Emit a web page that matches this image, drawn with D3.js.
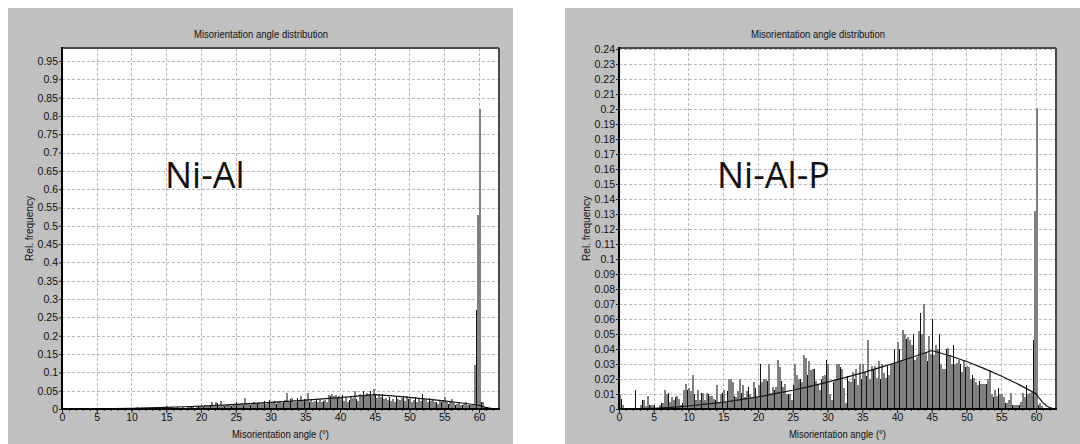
<!DOCTYPE html>
<html><head><meta charset="utf-8">
<script src="https://cdn.jsdelivr.net/npm/d3@7"></script>
<style>
body{margin:0;background:#fff;}
svg{display:block;font-family:"Liberation Sans",Arial,sans-serif;}
</style>
</head><body>
<svg id="chart" width="1080" height="444"></svg>
<script>
// ---------- data ----------
const binWidth = 0.25; // degrees per bar, bars start at 0°
const xTicks = [0,5,10,15,20,25,30,35,40,45,50,55,60];
const leftYTicks = [0,0.05,0.1,0.15,0.2,0.25,0.3,0.35,0.4,0.45,0.5,0.55,0.6,0.65,0.7,0.75,0.8,0.85,0.9,0.95];
const rightYTicks = [0,0.01,0.02,0.03,0.04,0.05,0.06,0.07,0.08,0.09,0.1,0.11,0.12,0.13,0.14,0.15,0.16,0.17,0.18,0.19,0.2,0.21,0.22,0.23,0.24];

// Ni-Al relative frequency per 0.25° bin (one row = 5°)
const niAlBars = [
 0,0,0,0,0,0,0,0,0,0,0,0,0,0,0,0,0,0,0,0,
 0,0,0,0,0,0,0,0,0,0.004,0.002,0,0,0,0,0,0,0,0,0.004,
 0.002,0,0,0.005,0.002,0.002,0,0,0,0.001,0.004,0.004,0,0.002,0.005,0.003,0.003,0.004,0.003,0.006,
 0.007,0.003,0.004,0.005,0.004,0.003,0.006,0.004,0.003,0.005,0.003,0.004,0.006,0.007,0.005,0.008,0.004,0.006,0.007,0.009,
 0.008,0.006,0.010,0.007,0.009,0.012,0.020,0.011,0.018,0.016,0.012,0.023,0.010,0.008,0.012,0.011,0.014,0.009,0.012,0.015,
 0.018,0.014,0.013,0.016,0.012,0.030,0.013,0.015,0.012,0.014,0.020,0.016,0.013,0.018,0.014,0.017,0.022,0.015,0.019,0.025,
 0.016,0.018,0.021,0.015,0.020,0.023,0.017,0.019,0.024,0.045,0.022,0.028,0.030,0.020,0.018,0.030,0.025,0.035,0.022,0.028,
 0.024,0.045,0.019,0.025,0.018,0.021,0.028,0.020,0.026,0.018,0.022,0.025,0.020,0.038,0.036,0.040,0.035,0.038,0.030,0.036,
 0.032,0.038,0.022,0.030,0.018,0.025,0.034,0.030,0.050,0.028,0.022,0.040,0.036,0.050,0.038,0.045,0.042,0.048,0.035,0.055,
 0.038,0.030,0.042,0.034,0.040,0.028,0.030,0.025,0.033,0.022,0.028,0.020,0.035,0.026,0.024,0.030,0.036,0.022,0.035,0.028,
 0.030,0.018,0.025,0.032,0.020,0.026,0.022,0.040,0.028,0.024,0.018,0.030,0.022,0.026,0.018,0.020,0.015,0.022,0.019,0.025,
 0.034,0.018,0.015,0.020,0.028,0.016,0.012,0.014,0.020,0.010,0.012,0.015,0.018,0.012,0.010,0.012,0.014,0.120,0.270,0.530,
 0.820,0.020,0.020,0.005,0.002,0,0,0,0,0,0,0
];

// Ni-Al-P relative frequency per 0.25° bin (one row = 5°)
const niAlPBars = [
 0.010,0.007,0.003,0,0,0,0,0,0,0.013,0,0,0.003,0.006,0.006,0.002,0.009,0.003,0.003,0.003,
 0.003,0,0,0.003,0.004,0.004,0.013,0.010,0.011,0.005,0.008,0.006,0.008,0.009,0.007,0.003,0.004,0.013,0.017,0.013,
 0.014,0.012,0.023,0.010,0.006,0.013,0.006,0.011,0.011,0.006,0.011,0.010,0.009,0.009,0.007,0.006,0.016,0.005,0.010,0.011,
 0.013,0.005,0.012,0.020,0.020,0.018,0.009,0.008,0.012,0.020,0.011,0.016,0.008,0.012,0.015,0.010,0.008,0.018,0.014,0.009,
 0.016,0.030,0.018,0.020,0.020,0.019,0.030,0.011,0.015,0.013,0.015,0.033,0.028,0.019,0.015,0.017,0.010,0.010,0.010,0.006,
 0.016,0.030,0.023,0.020,0.020,0.018,0.036,0.034,0.023,0.032,0.026,0.027,0.027,0.019,0.017,0.013,0.020,0.022,0.023,0.033,
 0.030,0.010,0.006,0.018,0.020,0.030,0.030,0.028,0.027,0.014,0.004,0.022,0.019,0.018,0.025,0.020,0.027,0.016,0.030,0.020,
 0.030,0.025,0.022,0.046,0.020,0.029,0.026,0.029,0.021,0.032,0.020,0.030,0.024,0.021,0.029,0.023,0.030,0.031,0.040,0.031,
 0.045,0.040,0.033,0.053,0.050,0.047,0.048,0.046,0.043,0.050,0.033,0.035,0.052,0.064,0.050,0.070,0.038,0.032,0.049,0.037,
 0.060,0.036,0.043,0.040,0.050,0.030,0.027,0.027,0.040,0.041,0.036,0.030,0.043,0.030,0.031,0.033,0.030,0.025,0.033,0.028,
 0.029,0.028,0.020,0.023,0.021,0.018,0.016,0.019,0.017,0.017,0.017,0.017,0.020,0.026,0.010,0.008,0.013,0.009,0.014,0.010,
 0.010,0.008,0.004,0.004,0.006,0.011,0.003,0.003,0.003,0.003,0.003,0.005,0.011,0.008,0.016,0.010,0.011,0.012,0.046,0.132,
 0.201,0.003,0.004,0.002,0.001,0,0.001,0,0.001,0,0,0
];

// random (Mackenzie) distribution curve
const curveAngles = [0,2.5,5,7.5,10,12.5,15,17.5,20,22.5,25,27.5,30,32.5,35,37.5,40,42.5,45,47.5,50,52.5,55,57.5,60,60.5,61,61.5,62,62.5,62.8];
const curveValues = [0,0.0001,0.0005,0.0011,0.0020,0.0032,0.0045,0.0062,0.0080,0.0102,0.0125,0.0151,0.0179,0.0209,0.0241,0.0276,0.0312,0.0350,0.0390,0.0357,0.0317,0.0271,0.0220,0.0164,0.0102,0.0070,0.0042,0.0022,0.0009,0.0002,0];

const panelLabels = ["Ni-Al", "Ni-Al-P"];
const chartTitle = "Misorientation angle distribution";
const xTitle = "Misorientation angle (°)";
const yTitle = "Rel. frequency";

// ---------- drawing ----------
const svg = d3.select("#chart");
const panels = [
  {label: panelLabels[0], bars: niAlBars, yTicks: leftYTicks, yMax: 0.9855, dx: 0, bgW: 505, labelX: 165},
  {label: panelLabels[1], bars: niAlPBars, yTicks: rightYTicks, yMax: 0.2407, dx: 557, bgW: 530, labelX: 160}
];
const P = {left: 62, right: 499, top: 48, bottom: 409};
const fmt = d => String(+d.toFixed(2));

panels.forEach(p => {
  const g = svg.append("g").attr("transform", `translate(${p.dx},0)`);
  g.append("rect").attr("x", 8).attr("y", 8).attr("width", p.bgW).attr("height", 440).attr("fill", "#c0c0c0");
  g.append("rect").attr("x", P.left).attr("y", P.top).attr("width", P.right - P.left).attr("height", P.bottom - P.top).attr("fill", "#fff");

  const x = d3.scaleLinear().domain([0, 62.88]).range([P.left, P.right]);
  const y = d3.scaleLinear().domain([0, p.yMax]).range([P.bottom, P.top]);

  // grid
  const grid = g.append("g").attr("stroke", "#b8b8b8").attr("stroke-width", 1).attr("stroke-dasharray", "3,2").attr("shape-rendering", "crispEdges");
  grid.selectAll("line.h").data(p.yTicks.filter(d => d > 0)).join("line")
    .attr("x1", P.left).attr("x2", P.right).attr("y1", d => Math.round(y(d)) + 0.5).attr("y2", d => Math.round(y(d)) + 0.5);
  grid.selectAll("line.v").data(xTicks.filter(d => d > 0)).join("line")
    .attr("x1", d => Math.round(x(d)) + 0.5).attr("x2", d => Math.round(x(d)) + 0.5).attr("y1", P.top).attr("y2", P.bottom);

  // bars
  const barData = p.bars.map((v, i) => ({a: i * binWidth, v})).filter(d => d.v > 0);
  g.append("g").attr("shape-rendering", "crispEdges").selectAll("rect").data(barData).join("rect")
    .each(function(d) {
      const x0 = Math.round(x(d.a)), x1 = Math.round(x(d.a + binWidth));
      const w = Math.max(1, x1 - x0);
      const yt = Math.min(P.bottom - 1, Math.round(y(d.v)));
      d3.select(this).attr("x", x0).attr("width", w).attr("y", yt).attr("height", P.bottom - yt)
        .attr("fill", w < 2 ? "#111" : "#808080");
    });

  // random distribution curve
  const line = d3.line().x((d, i) => x(curveAngles[i])).y(d => y(d));
  g.append("path").datum(curveValues).attr("d", line).attr("fill", "none").attr("stroke", "#111").attr("stroke-width", 1.2);

  // frame
  g.append("line").attr("x1", P.left).attr("x2", P.right).attr("y1", P.top).attr("y2", P.top).attr("stroke", "#4a4a4a").attr("stroke-width", 2);
  g.append("line").attr("x1", P.right).attr("x2", P.right).attr("y1", P.top).attr("y2", P.bottom).attr("stroke", "#4a4a4a").attr("stroke-width", 2);

  // axes
  const xAxis = g.append("g").attr("transform", `translate(0,${P.bottom})`)
    .call(d3.axisBottom(x).tickValues(xTicks).tickFormat(d => d).tickSize(4).tickPadding(1));
  const minor = g.append("g").attr("transform", `translate(0,${P.bottom})`)
    .call(d3.axisBottom(x).tickValues(d3.range(0, 63, 1)).tickFormat("").tickSize(2));
  const yAxis = g.append("g").attr("transform", `translate(${P.left},0)`)
    .call(d3.axisLeft(y).tickValues(p.yTicks).tickFormat(fmt).tickSize(3).tickPadding(1));
  [xAxis, minor, yAxis].forEach(a => {
    a.select(".domain").remove();
    a.selectAll("line").attr("stroke", "#222");
    a.selectAll("text").attr("fill", "#111").style("font-size", "10.5px").style("font-family", "'Liberation Sans', Arial, sans-serif");
  });
  g.append("line").attr("x1", P.left).attr("x2", P.left).attr("y1", P.top - 1).attr("y2", P.bottom + 1).attr("stroke", "#000").attr("stroke-width", 2);
  g.append("line").attr("x1", P.left).attr("x2", P.right + 1).attr("y1", P.bottom).attr("y2", P.bottom).attr("stroke", "#000").attr("stroke-width", 2);

  // titles
  g.append("text").attr("x", 261).attr("y", 38).attr("text-anchor", "middle")
    .attr("textLength", 134).attr("lengthAdjust", "spacingAndGlyphs")
    .style("font-size", "10.5px").attr("fill", "#111").text(chartTitle);
  g.append("text").attr("x", (P.left + P.right) / 2).attr("y", 438).attr("text-anchor", "middle")
    .attr("textLength", 97).attr("lengthAdjust", "spacingAndGlyphs")
    .style("font-size", "10.5px").attr("fill", "#111").text(xTitle);
  g.append("text").attr("transform", `translate(33,${(P.top + P.bottom) / 2}) rotate(-90)`).attr("text-anchor", "middle")
    .attr("textLength", 65).attr("lengthAdjust", "spacingAndGlyphs")
    .style("font-size", "10.5px").attr("fill", "#111").text(yTitle);

  // sample label
  g.append("text").attr("x", p.labelX).attr("y", 188)
    .style("font-family", "'Open Sans', sans-serif").style("font-size", "36px").attr("fill", "#111").text(p.label);
});
</script>
</body></html>
